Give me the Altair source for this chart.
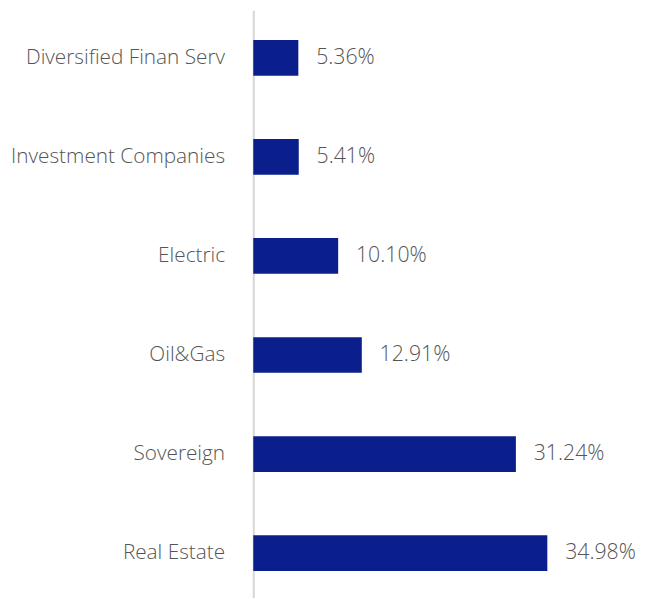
import altair as alt
import pandas as pd

categories = ["Diversified Finan Serv", "Investment Companies", "Electric", "Oil&Gas", "Sovereign", "Real Estate"]
values = [5.36, 5.41, 10.10, 12.91, 31.24, 34.98]
labels = ["5.36%", "5.41%", "10.10%", "12.91%", "31.24%", "34.98%"]

df = pd.DataFrame({"cat": categories, "val": values, "lab": labels})

FONT = "Open Sans"
y_enc = alt.Y("cat:N", sort=categories, title=None,
              scale=alt.Scale(paddingInner=0.64, paddingOuter=0.3, range=[-1, 596]),
              axis=alt.Axis(domain=True, domainColor="#d6d6d6", domainWidth=2,
                            ticks=False, labelPadding=29, labelFontSize=21,
                            labelFont=FONT, labelFontWeight=300, labelColor="#555555",
                            labelLimit=400))
x_enc = alt.X("val:Q", scale=alt.Scale(domain=[0, 40]), axis=None)

bars = alt.Chart(df).mark_bar(color="#0a1f8c").encode(y=y_enc, x=x_enc)
text = alt.Chart(df).mark_text(align="left", baseline="middle", dx=18, fontSize=21.5,
                               font=FONT, fontWeight=300, color="#555555").encode(
    y=alt.Y("cat:N", sort=categories), x="val:Q", text="lab:N")

chart = alt.layer(bars, text).properties(
    width=340, height=590,
    autosize=alt.AutoSizeParams(type="none"),
    padding={"left": 248, "top": 0, "right": 48, "bottom": 0},
).configure_view(stroke=None)

chart.save("out.html", embed_options={"renderer": "svg", "actions": False})
